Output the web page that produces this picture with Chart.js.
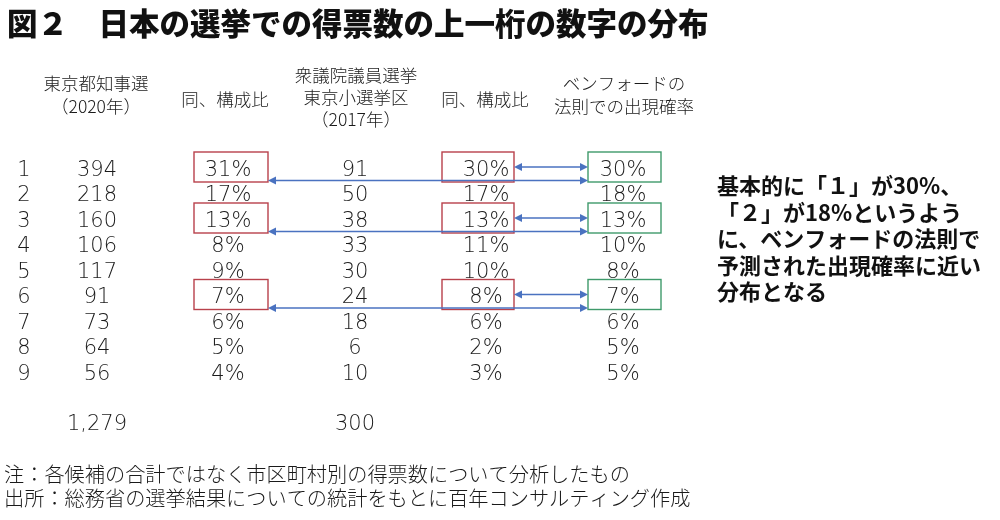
<!DOCTYPE html>
<html>
<head>
<meta charset="utf-8">
<script src="https://cdn.jsdelivr.net/npm/chart.js@4.4.1/dist/chart.umd.min.js"></script>
<style>
  html,body{margin:0;padding:0;background:#fff;}
  #wrap{width:1000px;height:520px;}
</style>
</head>
<body>
<div id="wrap"><canvas id="c" width="1000" height="520"></canvas></div>
<script>
// ---- data ----
const digits      = [1, 2, 3, 4, 5, 6, 7, 8, 9];
const tokyoVotes  = [394, 218, 160, 106, 117, 91, 73, 64, 56];
const tokyoShare  = [31, 17, 13, 8, 9, 7, 6, 5, 4];
const houseVotes  = [91, 50, 38, 33, 30, 24, 18, 6, 10];
const houseShare  = [30, 17, 13, 11, 10, 8, 6, 2, 3];
const benford     = [30, 18, 13, 10, 8, 7, 6, 5, 5];
const totalLabels = ['1,279', '', '300', '', ''];
const highlightDigits = [1, 3, 6];

const titleText = '図２　日本の選挙での得票数の上一桁の数字の分布';
const headers = [
  ['東京都知事選', '（2020年）'],
  ['同、構成比'],
  ['衆議院議員選挙', '東京小選挙区', '（2017年）'],
  ['同、構成比'],
  ['ベンフォードの', '法則での出現確率']
];
const commentLines = ['基本的に「１」が30%、', '「２」が18%というよう', 'に、ベンフォードの法則で', '予測された出現確率に近い', '分布となる'];
const notes = ['注：各候補の合計ではなく市区町村別の得票数について分析したもの',
               '出所：総務省の選挙結果についての統計をもとに百年コンサルティング作成'];

// ---- layout (not data) ----
const colX = [24, 97, 228, 355, 486, 623];          // text centres of columns
const boxSpan = {2: [194, 268], 4: [442, 514], 5: [588, 661]};
const boxColor = {2: '#b8414b', 4: '#b8414b', 5: '#3f9a6b'};
const headerX = [96, 225, 356, 485, 624];
const rowTop = 167, rowStep = 25.5, H = 520;
const yMin = 1 - rowTop / rowStep, yMax = yMin + H / rowStep;
const totalRow = 10.96;

const columns = [digits, tokyoVotes, tokyoShare, houseVotes, houseShare, benford];
const fmt = [v => String(v), v => String(v), v => v + '%', v => String(v), v => v + '%', v => v + '%'];

const datasets = columns.map((arr, j) => ({
  label: 'col' + j,
  data: arr.map((v, i) => ({x: colX[j], y: digits[i], v: v})),
  pointRadius: 0, pointHoverRadius: 0, showLine: false
}));
datasets.push({
  label: 'totals',
  data: totalLabels.map((t, k) => ({x: colX[k + 1], y: totalRow, t: t})),
  pointRadius: 0, pointHoverRadius: 0, showLine: false
});

const FONT = '"Noto Sans CJK JP", "Noto Sans", sans-serif';
const NUMFONT = '"DejaVu Sans", "Noto Sans CJK JP", sans-serif';

function arrowHead(ctx, x, y, dir) {
  ctx.beginPath();
  ctx.moveTo(x, y);
  ctx.lineTo(x - dir * 8, y - 4);
  ctx.lineTo(x - dir * 8, y + 4);
  ctx.closePath();
  ctx.fill();
}
function dblArrow(ctx, x1, x2, y) {
  ctx.beginPath();
  ctx.moveTo(x1 + 6, y);
  ctx.lineTo(x2 - 6, y);
  ctx.stroke();
  arrowHead(ctx, x1, y, -1);
  arrowHead(ctx, x2, y, 1);
}

const tablePlugin = {
  id: 'tablePlugin',
  afterDatasetsDraw(chart) {
    const ctx = chart.ctx;
    const ys = chart.scales.y;
    ctx.save();
    // title
    ctx.fillStyle = '#111';
    ctx.textBaseline = 'middle';
    ctx.textAlign = 'left';
    ctx.font = '900 30.5px ' + FONT;
    ctx.fillText(titleText, 7, 23);
    // headers
    ctx.font = '300 17.5px ' + FONT;
    ctx.textAlign = 'center';
    ctx.fillStyle = '#1a1a1a';
    headers.forEach((lines, k) => {
      let ysList;
      if (lines.length === 3) ysList = [75, 97, 119];
      else if (lines.length === 2) ysList = [83, 106];
      else ysList = [99];
      lines.forEach((l, m) => ctx.fillText(l, headerX[k], ysList[m]));
    });
    // highlight boxes
    ctx.lineWidth = 1.4;
    highlightDigits.forEach(d => {
      const yc = ys.getPixelForValue(d);
      [2, 4, 5].forEach(j => {
        const s = boxSpan[j];
        ctx.strokeStyle = boxColor[j];
        ctx.strokeRect(s[0], yc - 15, s[1] - s[0], 30);
      });
    });
    // cells
    ctx.font = '200 21px ' + NUMFONT;
    ctx.fillStyle = '#1a1a1a';
    ctx.textAlign = 'center';
    chart.data.datasets.forEach((ds, di) => {
      const meta = chart.getDatasetMeta(di);
      meta.data.forEach((el, i) => {
        const p = ds.data[i];
        const txt = di < columns.length ? fmt[di](p.v) : p.t;
        if (txt) ctx.fillText(txt, el.x, el.y + 3.5);
      });
    });
    // arrows
    ctx.strokeStyle = '#4a72c0';
    ctx.fillStyle = '#4a72c0';
    ctx.lineWidth = 1.4;
    highlightDigits.forEach(d => {
      const yc = ys.getPixelForValue(d);
      dblArrow(ctx, boxSpan[4][1], boxSpan[5][0], yc);
      dblArrow(ctx, boxSpan[2][1], boxSpan[5][0], yc + 13.5);
    });
    // comment
    ctx.fillStyle = '#111';
    ctx.textAlign = 'left';
    ctx.font = '700 22px ' + FONT;
    commentLines.forEach((l, k) => ctx.fillText(l, 717, 186 + k * 26.5));
    // notes
    ctx.font = '300 20.2px ' + FONT;
    ctx.fillStyle = '#1a1a1a';
    notes.forEach((l, k) => ctx.fillText(l, 4, 474 + k * 24.5));
    ctx.restore();
  }
};

new Chart(document.getElementById('c'), {
  type: 'scatter',
  data: {datasets: datasets},
  options: {
    responsive: false,
    devicePixelRatio: 1,
    animation: false,
    layout: {padding: 0},
    events: [],
    scales: {
      x: {type: 'linear', min: 0, max: 1000, display: false},
      y: {type: 'linear', min: yMin, max: yMax, reverse: true, display: false}
    },
    plugins: {legend: {display: false}, tooltip: {enabled: false}, title: {display: false}}
  },
  plugins: [tablePlugin]
});
</script>
</body>
</html>
